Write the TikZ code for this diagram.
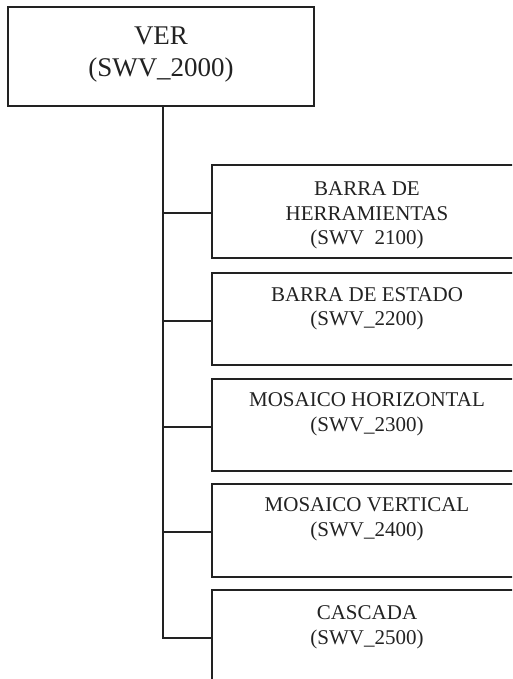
\documentclass[tikz,border=0pt]{standalone}
\usepackage{fontspec}
\setmainfont{Liberation Serif}
\definecolor{ink}{HTML}{222222}
\begin{document}
\begin{tikzpicture}[x=1pt,y=-1pt,
  box/.style={draw=ink,line width=1.2pt,rectangle,inner sep=0pt},
  link/.style={draw=ink,line width=1.3pt},
  toptext/.style={anchor=north,inner sep=0pt,align=center,text=ink,font=\fontsize{27}{32}\selectfont},
  subtext/.style={anchor=north,inner sep=0pt,align=center,text=ink,font=\fontsize{21}{24.5}\selectfont}]
\useasboundingbox (0,0) rectangle (512,679);
\clip (0,0) rectangle (512,679);
% boxes
\node[box,minimum width=306pt,minimum height=99pt] (top) at (161,56.5) {};
\node[box,minimum width=310pt,minimum height=93pt] (b1) at (367,211.5) {};
\node[box,minimum width=310pt,minimum height=92pt] (b2) at (367,319) {};
\node[box,minimum width=310pt,minimum height=92pt] (b3) at (367,425) {};
\node[box,minimum width=310pt,minimum height=93pt] (b4) at (367,530.5) {};
\node[box,minimum width=310pt,minimum height=93pt] (b5) at (367,636.5) {};
% texts
\node[toptext] (ttop) at (161,26.4) {VER\\(SWV\_2000)};
\node[subtext] (t1) at ([yshift=-17.5pt]b1.north) {BARRA DE\\HERRAMIENTAS\\(SWV\hspace{0.5em}2100)};
\node[subtext] (t2) at ([yshift=-14.5pt]b2.north) {BARRA DE ESTADO\\(SWV\_2200)};
\node[subtext] (t3) at ([yshift=-14pt]b3.north) {MOSAICO HORIZONTAL\\(SWV\_2300)};
\node[subtext] (t4) at ([yshift=-14pt]b4.north) {MOSAICO VERTICAL\\(SWV\_2400)};
\node[subtext] (t5) at ([yshift=-16pt]b5.north) {CASCADA\\(SWV\_2500)};
% connectors
\coordinate (tr) at (163,0);
\draw[link] (top.south -| tr) |- ([yshift=-1.5pt]b5.west);
\draw[link] ([yshift=-1.5pt]b1.west -| tr) -- ([yshift=-1.5pt]b1.west);
\draw[link] ([yshift=-2pt]b2.west -| tr) -- ([yshift=-2pt]b2.west);
\draw[link] ([yshift=-2pt]b3.west -| tr) -- ([yshift=-2pt]b3.west);
\draw[link] ([yshift=-1.5pt]b4.west -| tr) -- ([yshift=-1.5pt]b4.west);
\end{tikzpicture}
\end{document}
